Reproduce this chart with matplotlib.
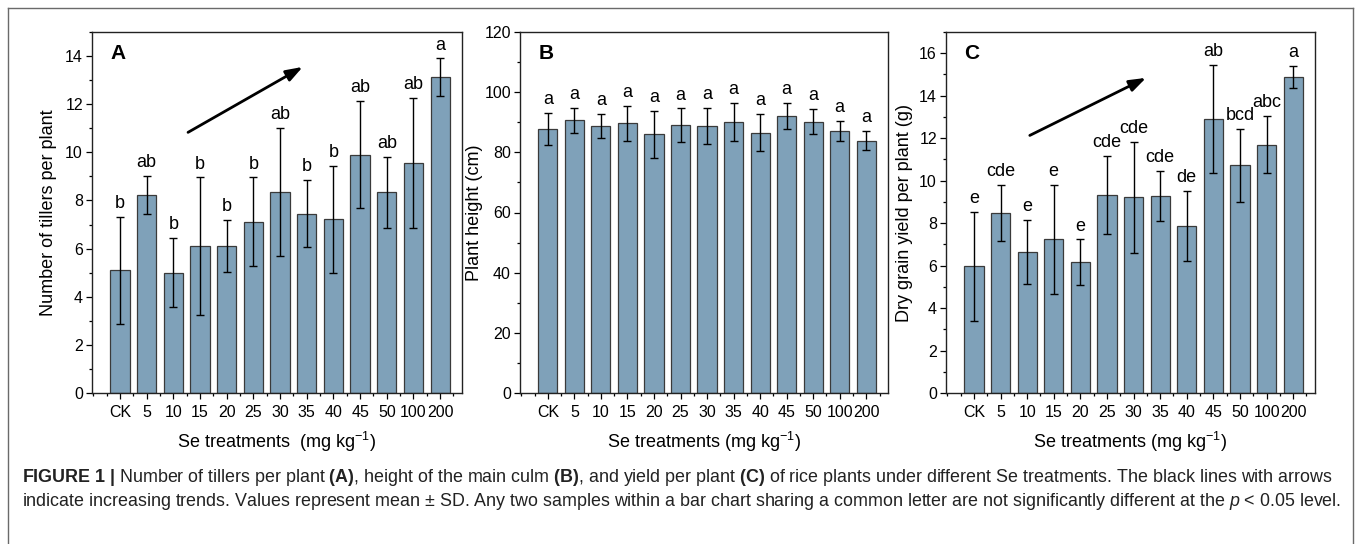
#!/usr/bin/env python3
"""Fig 1: tillers, plant height and grain yield of rice under Se treatments."""

import matplotlib

matplotlib.use("Agg")
import matplotlib.pyplot as plt
from matplotlib.lines import Line2D
from matplotlib.ticker import MultipleLocator
import numpy as np

plt.rcParams["font.family"] = ["Liberation Sans", "DejaVu Sans"]
plt.rcParams["mathtext.fontset"] = "custom"
plt.rcParams["mathtext.rm"] = "Liberation Sans"
plt.rcParams["mathtext.it"] = "Liberation Sans:italic"
plt.rcParams["mathtext.bf"] = "Liberation Sans:bold"

treatments = ["CK", "5", "10", "15", "20", "25", "30", "35", "40", "45", "50", "100", "200"]

tillers = [5.10, 8.23, 5.00, 6.11, 6.11, 7.12, 8.34, 7.45, 7.22, 9.90, 8.34, 9.56, 13.13]
tillers_sd = [2.22, 0.78, 1.44, 2.85, 1.07, 1.84, 2.66, 1.40, 2.23, 2.23, 1.47, 2.71, 0.77]
tillers_letters = ["b", "ab", "b", "b", "b", "b", "ab", "b", "b", "ab", "ab", "ab", "a"]

height = [87.9, 90.6, 88.8, 89.6, 86.0, 89.0, 88.8, 90.2, 86.5, 92.1, 90.2, 87.1, 83.9]
height_sd = [5.3, 4.3, 3.9, 5.7, 7.8, 5.6, 5.9, 6.3, 6.2, 4.2, 4.1, 3.2, 3.2]
height_letters = ["a"] * 13

yield_g = [5.96, 8.49, 6.64, 7.23, 6.16, 9.33, 9.21, 9.27, 7.87, 12.89, 10.73, 11.70, 14.90]
yield_sd = [2.55, 1.31, 1.53, 2.55, 1.07, 1.85, 2.60, 1.19, 1.66, 2.55, 1.72, 1.35, 0.52]
yield_letters = ["e", "cde", "e", "e", "e", "cde", "cde", "cde", "de", "ab", "bcd", "abc", "a"]

# trend arrows (data units: start x, start y, end x, end y)
arrow_a = (2.55, 10.83, 6.85, 13.55)
arrow_c = (2.10, 12.13, 6.47, 14.84)

BAR = "#7fa1b9"
W, H = 1358, 544


def panel(rect, values, sd, letters, ymax, ystep, ylabel, ylab_x, tag, xlabel, arrow=None):
    ax = fig.add_axes(rect)
    x = np.arange(len(treatments))
    ax.bar(x, values, width=0.72, color=BAR, edgecolor="#3a3a3a", linewidth=0.9, zorder=2)
    ax.errorbar(x, values, yerr=sd, fmt="none", ecolor="black", elinewidth=1.0,
                capsize=3.2, capthick=1.0, zorder=3)
    for xi, v, s, lab in zip(x, values, sd, letters):
        ax.annotate(lab, (xi, v + s), xytext=(0, 3.5), textcoords="offset points",
                    ha="center", va="bottom", fontsize=13)
    ax.set_xlim(-1.05, 12.82)
    ax.set_ylim(0, ymax)
    ax.set_xticks(x)
    ax.set_xticklabels(treatments, fontsize=11.5)
    ax.xaxis.set_minor_locator(MultipleLocator(0.5))
    ax.yaxis.set_major_locator(MultipleLocator(ystep))
    ax.yaxis.set_minor_locator(MultipleLocator(ystep / 2))
    ax.tick_params(axis="both", which="major", direction="out", length=4.5, width=0.9,
                   labelsize=11.5, pad=2)
    ax.tick_params(axis="both", which="minor", direction="out", length=2.5, width=0.9)
    ax.tick_params(axis="x", pad=4)
    for sp in ax.spines.values():
        sp.set_linewidth(1.0)
        sp.set_color("#222222")
    ax.set_ylabel(ylabel, fontsize=13)
    ax.yaxis.set_label_coords(ylab_x, 0.5)
    ax.set_xlabel(xlabel, fontsize=13, labelpad=7)
    ax.text(0.07, 0.94, tag, transform=ax.transAxes, fontsize=15, fontweight="bold",
            ha="center", va="center")
    if arrow is not None:
        ax.annotate("", xy=(arrow[2], arrow[3]), xytext=(arrow[0], arrow[1]),
                    arrowprops=dict(arrowstyle="-|>,head_length=1.0,head_width=0.35",
                                    lw=2.0, color="black", shrinkA=0, shrinkB=0))
    return ax


fig = plt.figure(figsize=(W / 100, H / 100), dpi=100)

bottom = (H - 393) / H
top_h = (393 - 32) / H
panel([92 / W, bottom, 370 / W, top_h], tillers, tillers_sd, tillers_letters, 15, 2,
      "Number of tillers per plant", -0.095, "A", "Se treatments  (mg kg$^{-1}$)", arrow_a)
panel([520 / W, bottom, 368 / W, top_h], height, height_sd, height_letters, 120, 20,
      "Plant height (cm)", -0.1, "B", "Se treatments (mg kg$^{-1}$)")
panel([946 / W, bottom, 369 / W, top_h], yield_g, yield_sd, yield_letters, 17, 2,
      "Dry grain yield per plant (g)", -0.09, "C", "Se treatments (mg kg$^{-1}$)", arrow_c)

# outer frame (open at the bottom)
fx0, fx1, fy1 = 7.5 / W, 1352.5 / W, (H - 8) / H
for xs, ys in [([fx0, fx0], [0, fy1]), ([fx0, fx1], [fy1, fy1]), ([fx1, fx1], [fy1, 0])]:
    fig.add_artist(Line2D(xs, ys, color="#6a6a6a", lw=1.0, transform=fig.transFigure))

cap1 = ("$\\bf{FIGURE\\ 1\\ |}$ Number of tillers per plant $\\bf{(A)}$, height of the main culm "
        "$\\bf{(B)}$, and yield per plant $\\bf{(C)}$ of rice plants under different Se "
        "treatments. The black lines with arrows")
cap2 = ("indicate increasing trends. Values represent mean \u00b1 SD. Any two samples within a bar "
        "chart sharing a common letter are not significantly different at the $\\it{p}$ < 0.05 level.")
fig.text(22 / W, 1 - 477 / H, cap1, fontsize=12.9, ha="left", va="center", color="#222222")
fig.text(22 / W, 1 - 501 / H, cap2, fontsize=12.9, ha="left", va="center", color="#222222")

fig.savefig("out.png", dpi=100)
